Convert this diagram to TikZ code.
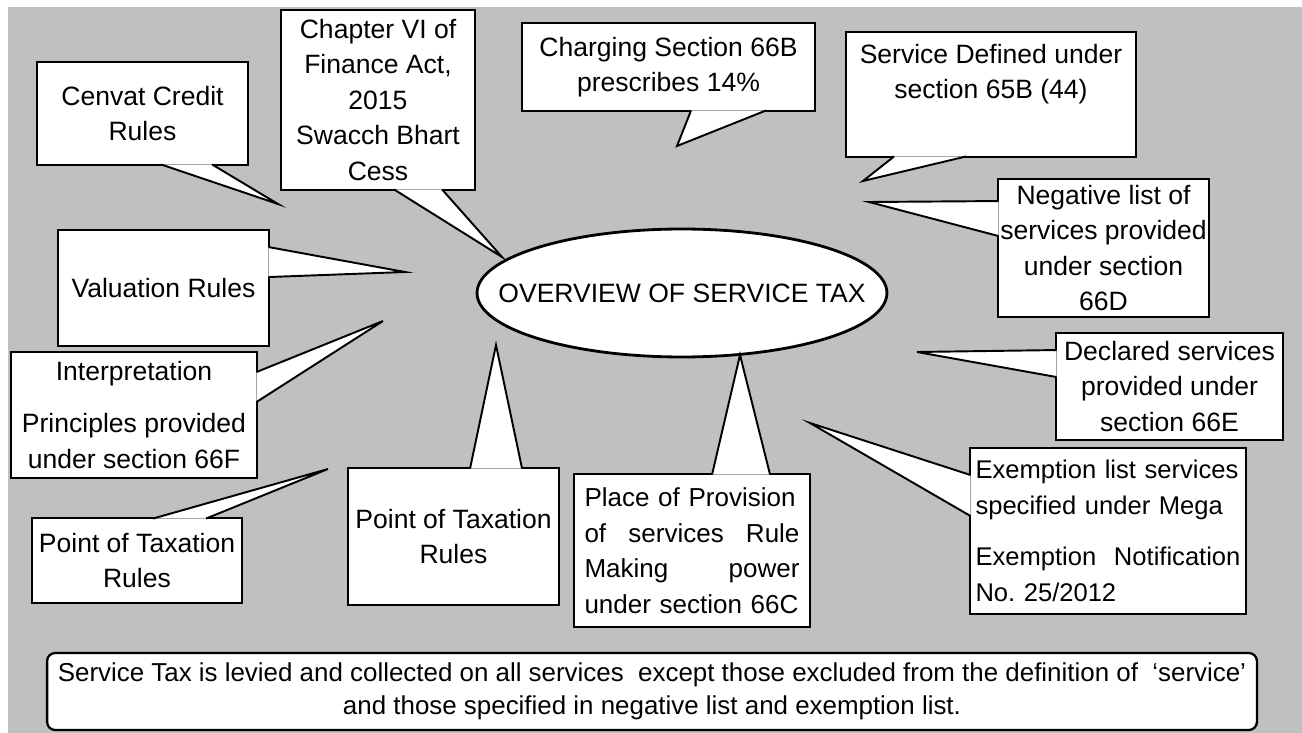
\documentclass[tikz,border=0pt]{standalone}
\usepackage{fontspec}
\setmainfont{Liberation Sans}
\frenchspacing
\definecolor{sv_gray}{RGB}{192, 192, 192}
\usetikzlibrary{calc, shapes.geometric}

\begin{document}
\begin{tikzpicture}[x=0.02cm, y=-0.02cm,
        bub/.style={draw, fill=white, line width=1.1pt, inner sep=0pt,
                    align=center, font=\fontsize{15.1}{20.2}\selectfont},
        tl/.style={draw, fill=white, line width=1.1pt, line join=miter},
        hub/.style={ellipse, draw, fill=white, line width=1.6pt, inner sep=0pt,
                    minimum width=8.2cm, minimum height=2.56cm,
                    font=\fontsize{15.1}{20.2}\selectfont},
        note/.style={draw, fill=white, rounded corners=0.16cm, line width=1.3pt,
                     inner sep=0pt, align=center, font=\fontsize{14.75}{18.6}\selectfont},
      ]
        \path[use as bounding box, fill=white] (0,0) rectangle (1302,733);
        \fill[sv_gray] (8,7) rectangle (1302,733);

        \node[hub] (ov) at (682,293) {\makebox[0pt]{OVERVIEW OF SERVICE TAX}};

        \node[bub, minimum width=4.22cm, minimum height=2.06cm] (cenvat) at (142.5,113.5)
          {Cenvat Credit\\ Rules};
        \node[bub, minimum width=3.88cm, minimum height=3.6cm] (chapter) at (378,100)
          {Chapter VI of\\ Finance Act,\\ 2015\\ Swacch Bhart\\ Cess};
        \node[bub, minimum width=5.86cm, minimum height=1.76cm] (charging) at (668.5,67)
          {Charging Section 66B\\ prescribes 14\%};
        \node[bub, minimum width=5.8cm, minimum height=2.5cm] (servdef) at (991,94.5)
          {Service Defined under\\ section 65B (44)\\[6pt] \mbox{}};
        \node[bub, minimum width=4.22cm, minimum height=2.76cm] (neglist) at (1103.5,248)
          {Negative list of\\ services provided\\ under section\\ 66D};
        \node[bub, minimum width=4.54cm, minimum height=2.14cm] (declared) at (1169.5,386.5)
          {Declared services\\ provided under\\ section 66E};
        \node[bub, minimum width=5.52cm, minimum height=3.32cm, text width=5.3cm, align=left,
              font=\fontsize{14.55}{20.2}\selectfont] (exempt) at (1108,531)
          {Exemption list services\\ specified under Mega\\[9pt] Exemption\hfill Notification\\ No. 25/2012};
        \node[bub, minimum width=4.72cm, minimum height=3.06cm, text width=4.3cm, align=left,
              font=\fontsize{14.8}{20.2}\selectfont] (place) at (692,550.5)
          {Place of Provision\\ of\hfill services\hfill Rule\\ Making\hfill power\\ under section 66C};
        \node[bub, minimum width=4.22cm, minimum height=2.74cm] (potmid) at (453.5,536.5)
          {Point of Taxation\\ Rules};
        \node[bub, minimum width=4.22cm, minimum height=2.32cm] (valuation) at (163.5,288)
          {Valuation Rules};
        \node[bub, minimum width=4.92cm, minimum height=2.52cm] (interp) at (134,415)
          {Interpretation\\[9.6pt] Principles provided\\ under section 66F};
        \node[bub, minimum width=4.2cm, minimum height=1.7cm] (potleft) at (137,560.5)
          {Point of Taxation\\ Rules};

        % where the tails point
        \coordinate (cenvat-tip) at (278,204);
        \coordinate (chapter-tip) at (502,257);
        \coordinate (charging-tip) at (677,146);
        \coordinate (servdef-tip) at (863,181);
        \coordinate (neglist-tip) at (869,202);
        \coordinate (declared-tip) at (917,352);
        \coordinate (exempt-tip) at (810,423);
        \coordinate (place-tip) at (740,355);
        \coordinate (potmid-tip) at (496,345);
        \coordinate (valuation-tip) at (405,272);
        \coordinate (interp-tip) at (383,321);
        \coordinate (potleft-tip) at (328,469);

        % tails
        \foreach \n/\a/\b in {cenvat/125/176, chapter/114/162, charging/170/245, servdef/49/121}
          \draw[tl] ($(\n.south west)+(\a,-1.5)$) -- (\n-tip) -- ($(\n.south west)+(\b,-1.5)$);
        \foreach \n/\a/\b in {neglist/23/58, declared/18/45, exempt/28/69}
          \draw[tl] ($(\n.north west)+(1.5,\a)$) -- (\n-tip) -- ($(\n.north west)+(1.5,\b)$);
        \foreach \n/\a/\b in {place/139/197, potmid/123/175, potleft/122/175}
          \draw[tl] ($(\n.north west)+(\a,1.5)$) -- (\n-tip) -- ($(\n.north west)+(\b,1.5)$);
        \foreach \n/\a/\b in {valuation/18/48, interp/21/51}
          \draw[tl] ($(\n.north east)+(-1.5,\a)$) -- (\n-tip) -- ($(\n.north east)+(-1.5,\b)$);

        \node[note, minimum width=24.2cm, minimum height=1.54cm] (summary) at (652,691.5)
          {Service Tax is levied and collected on all services\ \ except those excluded from the definition of\ \ ‘service’\\
           and those specified in negative list and exemption list.};
      \end{tikzpicture}
\end{document}
